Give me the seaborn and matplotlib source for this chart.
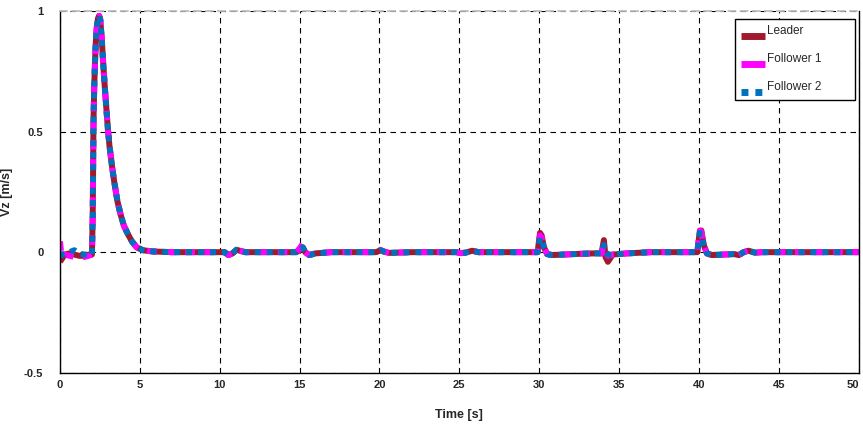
#!/usr/bin/env python3
"""Vertical velocity of leader and followers over time."""

import matplotlib

matplotlib.use("Agg")
import matplotlib.pyplot as plt
import numpy as np
import pandas as pd
import seaborn as sns

# time samples [s], 10 per row
TIME = [
    0, 0.1, 0.3, 0.6, 0.9, 1.2, 1.5, 1.8, 2.0, 2.05,
    2.1, 2.15, 2.2, 2.25, 2.3, 2.38, 2.45, 2.52, 2.6, 2.7,
    2.8, 2.9, 3.0, 3.1, 3.25, 3.4, 3.6, 3.8, 4.0, 4.25,
    4.5, 4.8, 5.2, 5.8, 7, 9, 10.3, 10.55, 10.8, 11.05,
    11.3, 11.6, 13, 14.8, 15.05, 15.2, 15.35, 15.6, 16.0, 17,
    19.8, 20.05, 20.3, 20.6, 22, 24.8, 25.1, 25.4, 25.8, 26.2,
    28, 29.9, 30.05, 30.15, 30.3, 30.5, 30.8, 31.5, 32.5, 33.5,
    33.9, 34.05, 34.15, 34.3, 34.6, 35.5, 37, 39.9, 40.05, 40.15,
    40.3, 40.5, 40.8, 41.5, 42.2, 42.5, 42.8, 43.1, 43.5, 44,
    45, 50,
]

LEADER = [
    -0.04, -0.03, -0.01, -0.005, -0.01, -0.015, -0.015, -0.01, -0.01, 0.15,
    0.55, 0.7, 0.8, 0.88, 0.93, 0.97, 0.98, 0.965, 0.9, 0.79,
    0.69, 0.6, 0.51, 0.44, 0.36, 0.29, 0.21, 0.155, 0.11, 0.075,
    0.045, 0.02, 0.008, 0.003, 0, 0, 0, -0.012, -0.005, 0.01,
    0.005, 0, 0, 0, 0.01, 0.02, 0.0, -0.012, -0.005, 0,
    0, 0.008, 0.002, -0.003, 0, 0, -0.004, -0.002, 0.006, 0,
    0, 0.0, 0.08, 0.07, 0.02, -0.008, -0.012, -0.01, -0.007, -0.005,
    -0.005, 0.05, -0.02, -0.04, -0.01, -0.005, 0, 0, 0.085, 0.09,
    0.03, -0.005, -0.012, -0.01, -0.008, -0.012, 0.0, 0.006, -0.002, 0,
    0, 0,
]

FOLLOWER_1 = [
    0.045, -0.02, -0.01, -0.015, -0.02, -0.025, -0.02, -0.015, -0.01, 0.15,
    0.55, 0.7, 0.8, 0.88, 0.93, 0.97, 0.98, 0.965, 0.9, 0.79,
    0.69, 0.6, 0.51, 0.44, 0.36, 0.29, 0.21, 0.155, 0.11, 0.075,
    0.045, 0.02, 0.008, 0.003, 0, 0, 0, -0.012, -0.005, 0.01,
    0.005, 0, 0, 0, 0.02, 0.035, 0.0, -0.012, -0.005, 0,
    0, 0.01, 0.002, -0.003, 0, 0, -0.004, -0.002, 0.006, 0,
    0, 0.0, 0.07, 0.06, 0.02, -0.008, -0.012, -0.01, -0.007, -0.005,
    -0.005, 0.03, 0.0, -0.015, -0.01, -0.005, 0, 0, 0.09, 0.085,
    0.03, -0.005, -0.012, -0.01, -0.008, -0.012, 0.0, 0.006, -0.002, 0,
    0, 0,
]

FOLLOWER_2 = [
    -0.02, -0.01, -0.005, 0.0, 0.008, -0.005, -0.01, -0.01, -0.01, 0.15,
    0.55, 0.7, 0.8, 0.88, 0.93, 0.97, 0.98, 0.965, 0.9, 0.79,
    0.69, 0.6, 0.51, 0.44, 0.36, 0.29, 0.21, 0.155, 0.11, 0.075,
    0.045, 0.02, 0.008, 0.003, 0, 0, 0, -0.012, -0.005, 0.01,
    0.005, 0, 0, 0, 0.01, 0.02, 0.0, -0.012, -0.005, 0,
    0, 0.008, 0.002, -0.003, 0, 0, -0.004, -0.002, 0.006, 0,
    0, 0.0, 0.06, 0.05, 0.02, -0.008, -0.012, -0.01, -0.007, -0.005,
    -0.005, 0.03, 0.0, -0.01, -0.01, -0.005, 0, 0, 0.08, 0.075,
    0.03, -0.005, -0.012, -0.01, -0.008, -0.012, 0.0, 0.006, -0.002, 0,
    0, 0,
]

X_TICKS = [0, 5, 10, 15, 20, 25, 30, 35, 40, 45, 50]
Y_TICKS = [-0.5, 0, 0.5, 1]
Y_TICK_LABELS = ["-0.5", "0", "0.5", "1"]

sns.set_theme(style="white")
plt.rcParams["font.family"] = ["Liberation Sans", "DejaVu Sans"]
plt.rcParams["lines.solid_capstyle"] = "butt"
plt.rcParams["lines.dash_capstyle"] = "butt"

df = pd.DataFrame(
    {"Time": TIME, "Leader": LEADER, "Follower 1": FOLLOWER_1, "Follower 2": FOLLOWER_2}
)

fig = plt.figure(figsize=(8.63, 4.25), dpi=100)
ax = fig.add_axes([0.0695, 0.123, 0.9255, 0.851])

lw = 4.3
sns.lineplot(data=df, x="Time", y="Leader", color="#A0192F", linewidth=lw,
             label="Leader", ax=ax)
sns.lineplot(data=df, x="Time", y="Follower 1", color="#FF00FF", linewidth=lw,
             linestyle=(0, (1.6, 1.6)), label="Follower 1", ax=ax)
sns.lineplot(data=df, x="Time", y="Follower 2", color="#0072BD", linewidth=lw,
             linestyle=(0, (1, 1)), label="Follower 2", ax=ax)

ax.set_xlim(0, 50)
ax.set_ylim(-0.5, 1)
ax.set_xticks(X_TICKS)
ax.set_xticklabels([str(x) for x in X_TICKS])
ax.set_yticks(Y_TICKS)
ax.set_yticklabels(Y_TICK_LABELS)
ax.tick_params(axis="x", length=0, pad=5, labelsize=8)
ax.tick_params(axis="y", length=0, pad=12, labelsize=8)
for lab in ax.get_xticklabels() + ax.get_yticklabels():
    lab.set_fontweight("bold")
ax.get_xticklabels()[-1].set_horizontalalignment("right")

ax.grid(True, color="black", linestyle=(0, (5, 4)), linewidth=0.8)
ax.set_xlabel("Time [s]", fontsize=9, fontweight="bold", labelpad=14)
ax.set_ylabel("Vz [m/s]", fontsize=9, fontweight="bold", labelpad=8)

for side in ["left", "right", "bottom"]:
    ax.spines[side].set_color("black")
    ax.spines[side].set_linewidth(1.0)
ax.spines["top"].set_color("#BBBBBB")
ax.spines["top"].set_linestyle((0, (4, 3)))

leg = ax.legend(
    loc="upper left",
    bbox_to_anchor=(0.845, 0.758, 0.151, 0.22),
    mode="expand",
    borderaxespad=0,
    fontsize=8.5,
    frameon=True,
    fancybox=False,
    edgecolor="black",
    framealpha=1,
    handlelength=2.0,
    handletextpad=0.2,
    labelspacing=1.35,
    borderpad=0.55,
)
leg.get_frame().set_linewidth(1.0)
# handles sit a little below their text, Follower 1 shown solid
for line in leg.get_lines():
    line.set_ydata(np.asarray(line.get_ydata()) - 4)
    line.set_linewidth(5)
leg.get_lines()[1].set_linestyle("-")

fig.savefig("out.png", dpi=100)
plt.close(fig)
